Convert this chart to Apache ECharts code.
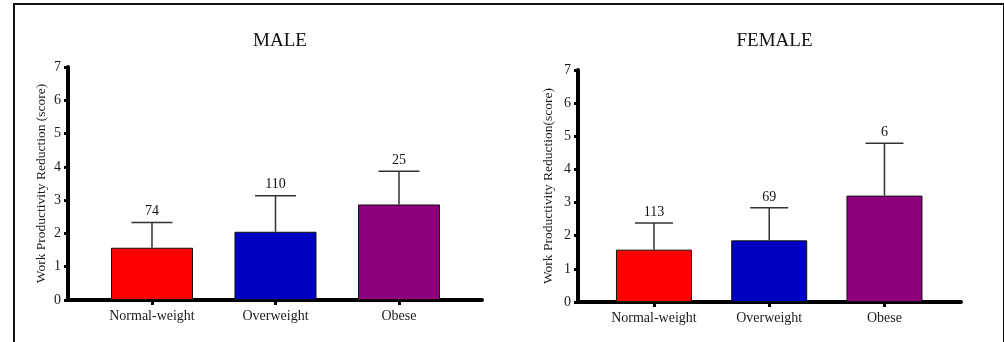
<!DOCTYPE html>
<html>
<head>
<meta charset="utf-8">
<script src="https://cdn.jsdelivr.net/npm/echarts@6/dist/echarts.min.js"></script>
<style>
  html, body { margin: 0; padding: 0; background: #fff; }
  #chart { width: 1004px; height: 342px; }
  #frame { position: absolute; left: 13px; top: 3px; width: 988px; height: 360px;
           border-left: 2px solid #111; border-top: 2px solid #111; border-right: 2px solid #111;
           pointer-events: none; }
</style>
</head>
<body>
<div id="chart"></div>
<div id="frame"></div>
<script>
const categories = ['Normal-weight', 'Overweight', 'Obese'];
const colors = ['#ff0000', '#0000c0', '#8c007c'];
const yTicks = [0, 1, 2, 3, 4, 5, 6, 7];

const maleTitle = 'MALE';
const maleMean = [1.57, 2.05, 2.87];
const maleUpper = [2.33, 3.13, 3.87];
const maleN = [74, 110, 25];
const maleYName = 'Work Productivity Reduction (score)';

const femaleTitle = 'FEMALE';
const femaleMean = [1.58, 1.86, 3.21];
const femaleUpper = [2.38, 2.84, 4.79];
const femaleN = [113, 69, 6];
const femaleYName = 'Work Productivity Reduction(score)';

const FONT = '"Liberation Serif", "DejaVu Serif", serif';

const panels = [
  { title: maleTitle, mean: maleMean, upper: maleUpper, n: maleN, yName: maleYName,
    left: 68, top: 67, width: 414, height: 233, xmin: -0.68, xmax: 2.672, barW: 82, nameGap: 20 },
  { title: femaleTitle, mean: femaleMean, upper: femaleUpper, n: femaleN, yName: femaleYName,
    left: 578, top: 70, width: 383, height: 232, xmin: -0.659, xmax: 2.664, barW: 76, nameGap: 23 }
];

const option = { animation: false, title: [], grid: [], xAxis: [], yAxis: [], series: [] };

panels.forEach((p, k) => {
  option.title.push({
    text: p.title, left: p.left + p.width / 2, top: 27, textAlign: 'center',
    textStyle: { fontFamily: FONT, fontSize: 19, fontWeight: 'normal', color: '#111' }
  });
  option.grid.push({ left: p.left, top: p.top, width: p.width, height: p.height, containLabel: false });
  option.xAxis.push({
    type: 'value', gridIndex: k, min: p.xmin, max: p.xmax,
    axisLine: { show: true, onZero: false, lineStyle: { color: '#000', width: 4 } },
    axisTick: { show: true, customValues: [0, 1, 2], length: 5, lineStyle: { color: '#000', width: 3 } },
    axisLabel: { customValues: [0, 1, 2], formatter: v => categories[Math.round(v)] || '',
      fontFamily: FONT, fontSize: 14, color: '#1a1a1a', margin: 9 },
    splitLine: { show: false }
  });
  option.yAxis.push({
    type: 'value', gridIndex: k, min: yTicks[0], max: yTicks[yTicks.length - 1], interval: 1,
    name: p.yName, nameLocation: 'middle', nameGap: p.nameGap, nameRotate: 90,
    nameTextStyle: { fontFamily: FONT, fontSize: 13.5, color: '#1a1a1a' },
    axisLine: { show: true, onZero: false, lineStyle: { color: '#000', width: 4 } },
    axisTick: { show: true, length: 4, lineStyle: { color: '#000', width: 3 } },
    axisLabel: { fontFamily: FONT, fontSize: 14, color: '#1a1a1a', margin: 7 },
    splitLine: { show: false }
  });
  option.series.push({
    type: 'bar', xAxisIndex: k, yAxisIndex: k, barWidth: p.barW,
    data: p.mean.map((v, i) => ({ value: [i, v], itemStyle: { color: colors[i], borderColor: '#111', borderWidth: 1 } })),
    z: 2
  });
  const half = p.barW / 4;
  option.series.push({
    type: 'custom', xAxisIndex: k, yAxisIndex: k, z: 3,
    encode: { x: 0, y: [1, 2] },
    data: p.mean.map((v, i) => [i, v, p.upper[i], p.n[i]]),
    renderItem: (params, api) => {
      const x = api.value(0), m = api.value(1), e = api.value(2), n = api.value(3);
      const p0 = api.coord([x, m]);
      const p1 = api.coord([x, e]);
      return {
        type: 'group',
        children: [
          { type: 'line', shape: { x1: p0[0], y1: p0[1], x2: p1[0], y2: p1[1] }, style: { stroke: '#333', lineWidth: 1.5 } },
          { type: 'line', shape: { x1: p1[0] - half, y1: p1[1], x2: p1[0] + half, y2: p1[1] }, style: { stroke: '#333', lineWidth: 1.5 } },
          { type: 'text', x: p1[0], y: p1[1] - 4, style: { text: String(n), textAlign: 'center', textVerticalAlign: 'bottom',
            font: '14px ' + FONT, fill: '#111' } }
        ]
      };
    }
  });
});

const chart = echarts.init(document.getElementById('chart'), null, { renderer: 'canvas' });
chart.setOption(option);
</script>
</body>
</html>
